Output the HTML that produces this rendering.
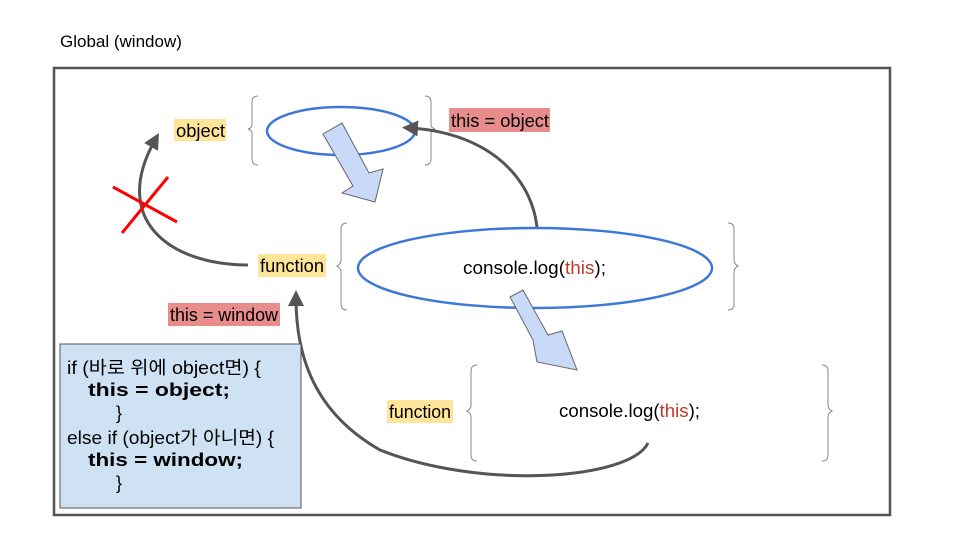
<!DOCTYPE html>
<html><head><meta charset="utf-8"><style>
html,body{margin:0;padding:0;background:#fff;}
svg{display:block;}
text{font-family:"Liberation Sans","Noto Sans CJK KR",sans-serif;font-size:18px;fill:#000;}
</style></head><body>
<svg width="960" height="540" viewBox="0 0 960 540" xmlns="http://www.w3.org/2000/svg">
<defs>
<marker id="ah" markerWidth="16" markerHeight="16" refX="8" refY="8" orient="auto" markerUnits="userSpaceOnUse" viewBox="0 0 16 16">
<path d="M0,0 L16,8 L0,16 z" fill="#555"/>
</marker>
</defs>
<text x="60" y="47" style="font-size:17px">Global (window)</text>
<rect x="54" y="68" width="836" height="447" fill="#fff" stroke="#555" stroke-width="2.5"/>

<rect x="174" y="119" width="52" height="22" fill="#ffe599"/>
<text x="176" y="137" textLength="49" lengthAdjust="spacingAndGlyphs">object</text>
<path d="M258,96 q-6,0 -6,6 v22 q0,4 -4,5 q4,1 4,5 v25 q0,6 6,6" fill="none" stroke="#888" stroke-width="1"/>
<path d="M425,96 q6,0 6,6 v22 q0,4 4,5 q-4,1 -4,5 v25 q0,6 -6,6" fill="none" stroke="#888" stroke-width="1"/>
<ellipse cx="341" cy="131" rx="74" ry="24" fill="none" stroke="#3c78d8" stroke-width="2.5"/>
<rect x="449" y="108" width="101" height="24" fill="#e06666" opacity="0.75"/>
<text x="451" y="127" textLength="98" lengthAdjust="spacingAndGlyphs">this = object</text>

<polygon points="323,134 342,123 369,173 383,169 375,202 342,193 353,186" fill="#c9daf8" stroke="#666" stroke-width="1"/>

<path d="M537,227 C530,170 480,132 410,128" fill="none" stroke="#555" stroke-width="3" marker-end="url(#ah)"/>
<path d="M248,265 C170,265 110,220 155,140" fill="none" stroke="#555" stroke-width="3" marker-end="url(#ah)"/>
<line x1="113" y1="187" x2="177" y2="222" stroke="#f00" stroke-width="3"/>
<line x1="168" y1="177" x2="122" y2="233" stroke="#f00" stroke-width="3"/>

<rect x="258" y="254" width="68" height="23" fill="#ffe599"/>
<text x="260" y="272" textLength="64" lengthAdjust="spacingAndGlyphs">function</text>
<path d="M347,223 q-6,0 -6,6 v31 q0,4 -4,6 q4,2 4,6 v32 q0,6 6,6" fill="none" stroke="#888" stroke-width="1"/>
<path d="M728,223 q6,0 6,6 v31 q0,4 4,6 q-4,2 -4,6 v32 q0,6 -6,6" fill="none" stroke="#888" stroke-width="1"/>
<ellipse cx="535" cy="268" rx="177" ry="40" fill="none" stroke="#3c78d8" stroke-width="2.5"/>
<text x="463" y="274" textLength="143" lengthAdjust="spacingAndGlyphs">console.log(<tspan style="fill:#c0392b">this</tspan>);</text>
<rect x="168" y="303" width="112" height="23" fill="#e06666" opacity="0.75"/>
<text x="170" y="321" textLength="108" lengthAdjust="spacingAndGlyphs">this = window</text>

<polygon points="510,297 523,290 548,335 562,331 577,370 537,362 533,340" fill="#c9daf8" stroke="#666" stroke-width="1"/>

<rect x="387" y="400" width="66" height="23" fill="#ffe599"/>
<text x="389" y="418" textLength="62" lengthAdjust="spacingAndGlyphs">function</text>
<path d="M477,365 q-6,0 -6,6 v34 q0,4 -4,6 q4,2 4,6 v38 q0,6 6,6" fill="none" stroke="#888" stroke-width="1"/>
<path d="M822,365 q6,0 6,6 v34 q0,4 4,6 q-4,2 -4,6 v38 q0,6 -6,6" fill="none" stroke="#888" stroke-width="1"/>
<text x="559" y="417" textLength="141" lengthAdjust="spacingAndGlyphs">console.log(<tspan style="fill:#c0392b">this</tspan>);</text>
<path d="M648,443 C630,480 480,490 380,450 C310,410 296,350 296,298" fill="none" stroke="#555" stroke-width="3" marker-end="url(#ah)"/>

<rect x="60" y="344" width="241" height="164" fill="#cfe2f3" stroke="#555" stroke-width="1"/>
<text x="67" y="374" textLength="194" lengthAdjust="spacingAndGlyphs">if (바로 위에 object면) {</text>
<text x="88" y="396" font-weight="bold" textLength="142" lengthAdjust="spacingAndGlyphs">this = object;</text>
<text x="116" y="419">}</text>
<text x="67" y="444" textLength="207" lengthAdjust="spacingAndGlyphs">else if (object가 아니면) {</text>
<text x="88" y="466" font-weight="bold" textLength="155" lengthAdjust="spacingAndGlyphs">this = window;</text>
<text x="116" y="489">}</text>
</svg>
</body></html>
